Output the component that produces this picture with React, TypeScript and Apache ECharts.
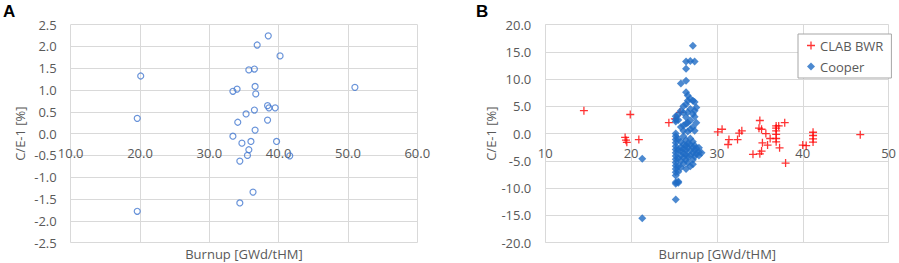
import React, { useEffect, useRef } from "react";
import * as echarts from "echarts";

// Panel A: burnup [GWd/tHM], C/E-1 [%]
const panelAPoints: number[][] = [
  [20.1, 1.32], [19.6, 0.35], [19.6, -1.78], [38.5, 2.24], [36.9, 2.03], [40.2, 1.78],
  [35.7, 1.46], [36.5, 1.48], [36.6, 1.08], [33.4, 0.97], [34.0, 1.02], [36.7, 0.91],
  [51.0, 1.06], [38.4, 0.64], [38.6, 0.59], [39.5, 0.59], [36.5, 0.54], [35.3, 0.45],
  [38.4, 0.31], [34.1, 0.26], [36.6, 0.08], [33.4, -0.06], [36.0, -0.18], [39.7, -0.18],
  [34.7, -0.22], [35.7, -0.37], [35.5, -0.5], [41.6, -0.51], [34.4, -0.63], [36.3, -1.34],
  [34.4, -1.59],
];

// Panel B series
const clabBwrPoints: number[][] = [
  [14.5, 4.2], [19.9, 3.5], [19.3, -0.7], [19.4, -1.2], [19.5, -1.6], [20.9, -1.1],
  [24.4, 2.0], [25.1, 2.7], [25.7, 3.9], [30.1, 0.3], [30.6, 0.8], [31.4, -1.1],
  [31.3, -2.0], [32.4, -1.1], [32.6, 0.1], [32.9, 0.5], [35.0, 2.4], [34.9, 1.0],
  [35.2, 0.8], [35.7, 0.0], [36.2, -0.9], [35.3, -1.7], [35.9, -2.1], [35.2, -3.2],
  [35.0, -3.7], [34.2, -3.8], [36.9, 1.4], [36.9, 1.0], [36.9, 0.5], [36.9, -0.15],
  [36.9, -0.9], [36.9, -1.5], [37.2, 1.4], [37.3, -2.6], [37.9, 2.0], [38.0, -5.4],
  [40.0, -2.1], [40.4, -2.2], [41.2, 0.25], [41.2, -0.35], [41.2, -0.95], [41.2, -1.55],
  [46.7, -0.2],
];

const cooperPoints: number[][] = [
  [21.3, -4.6], [21.3, -15.5],
  [25.2, 3.2], [25.2, 2.6], [25.2, 2.2], [25.2, 0.0], [25.2, -0.5], [25.2, -1.1], [25.2, -1.7],
  [25.2, -2.3], [25.2, -2.9], [25.2, -3.5], [25.2, -4.1], [25.2, -4.7], [25.2, -5.3], [25.2, -5.9],
  [25.2, -6.5], [25.2, -7.1], [25.2, -7.7], [25.2, -8.9], [25.2, -9.2], [25.2, -12.1],
  [25.5, 3.5], [25.5, 2.5], [25.5, -1.0], [25.5, -3.0], [25.5, -4.5], [25.5, -6.0], [25.5, -7.0],
  [25.5, -8.8], [25.5, -9.0],
  [25.8, 9.2], [25.8, 4.2], [25.8, 1.2], [25.8, -1.5], [25.8, -2.5], [25.8, -3.2], [25.8, -4.0],
  [25.8, -5.0], [25.8, -6.2],
  [26.1, 5.0], [26.1, 3.8], [26.1, 1.5], [26.1, 0.5], [26.1, -0.5], [26.1, -2.0], [26.1, -2.8],
  [26.1, -3.6], [26.1, -4.4], [26.1, -5.5],
  [26.4, 13.2], [26.4, 11.9], [26.4, 9.7], [26.4, 7.6], [26.4, 5.4], [26.4, 3.0], [26.4, 1.8],
  [26.4, -1.2], [26.4, -2.2], [26.4, -3.0], [26.4, -3.8], [26.4, -4.8], [26.4, -6.5],
  [26.6, 7.0], [26.6, 6.0], [26.6, 3.9], [26.6, 2.0], [26.6, 0.4], [26.6, -1.8], [26.6, -2.6],
  [26.6, -4.2], [26.6, -5.3],
  [26.9, 13.3], [26.9, 6.4], [26.9, 4.5], [26.9, 2.4], [26.9, 0.8], [26.9, -0.9], [26.9, -2.0],
  [26.9, -3.1], [26.9, -4.0], [26.9, -6.0],
  [27.2, 16.1], [27.2, 6.0], [27.2, 3.6], [27.2, 1.2], [27.2, -1.5], [27.2, -2.5], [27.2, -3.5],
  [27.2, -4.8], [27.2, -5.6],
  [27.4, 13.2], [27.4, 5.8], [27.4, 4.2], [27.4, 3.1], [27.4, 0.5], [27.4, -2.2], [27.4, -3.0],
  [27.4, -4.2],
  [27.6, 4.8], [27.6, 2.0], [27.6, -2.7], [27.6, -3.7],
  [27.9, -3.4], [27.9, -2.6], [27.9, -4.0],
  [28.2, -3.5],
];

const seriesNames = ["CLAB BWR", "Cooper"];
const xTitle = "Burnup [GWd/tHM]";
const yTitle = "C/E-1 [%]";

const crossPath = "path://M4.2,0H5.8V4.2H10V5.8H5.8V10H4.2V5.8H0V4.2H4.2Z";
const FONT = "Open Sans";
const TXT = "#595959";
const GRIDC = "#D9D9D9";
const GRID_H = 218.2;

export default function App() {
  const ref = useRef<HTMLDivElement>(null);
  useEffect(() => {
    if (!ref.current) return;
    const chart = echarts.init(ref.current, null, { renderer: "svg" });
    const lbl = { color: TXT, fontSize: 13, fontFamily: FONT };
    chart.setOption({
      animation: false,
      backgroundColor: "#ffffff",
      grid: [
        { left: 70.7, top: 24.5, width: 346.6, height: GRID_H },
        { left: 545.3, top: 24.5, width: 344, height: GRID_H },
      ],
      xAxis: [
        {
          type: "value", gridIndex: 0, min: 10, max: 60, interval: 10,
          offset: -GRID_H / 2,
          axisLine: { show: true, onZero: false, lineStyle: { color: GRIDC } },
          axisTick: { show: false },
          axisLabel: { color: TXT, fontSize: 13, fontFamily: FONT, margin: 13, formatter: (v: number) => v.toFixed(1) },
          splitLine: { show: true, lineStyle: { color: GRIDC } },
        },
        {
          type: "value", gridIndex: 1, min: 10, max: 50, interval: 10,
          offset: -GRID_H / 2,
          axisLine: { show: true, onZero: false, lineStyle: { color: GRIDC } },
          axisTick: { show: false },
          axisLabel: { color: TXT, fontSize: 13, fontFamily: FONT, margin: 13, formatter: (v: number) => String(v) },
          splitLine: { show: true, lineStyle: { color: GRIDC } },
        },
      ],
      yAxis: [
        {
          type: "value", gridIndex: 0, min: -2.5, max: 2.5, interval: 0.5,
          axisLine: { show: false }, axisTick: { show: false },
          axisLabel: { color: TXT, fontSize: 13, fontFamily: FONT, margin: 14, formatter: (v: number) => v.toFixed(1) },
          splitLine: { show: true, lineStyle: { color: GRIDC } },
          name: yTitle, nameLocation: "middle", nameGap: 44,
          nameTextStyle: { ...lbl },
        },
        {
          type: "value", gridIndex: 1, min: -20, max: 20, interval: 5,
          axisLine: { show: false }, axisTick: { show: false },
          axisLabel: { color: TXT, fontSize: 13, fontFamily: FONT, margin: 14, formatter: (v: number) => v.toFixed(1) },
          splitLine: { show: true, lineStyle: { color: GRIDC } },
          name: yTitle, nameLocation: "middle", nameGap: 42,
          nameTextStyle: { ...lbl },
        },
      ],
      legend: {
        data: [
          { name: seriesNames[0], icon: crossPath },
          { name: seriesNames[1], icon: "diamond" },
        ],
        orient: "vertical",
        left: 798, top: 34,
        itemWidth: 8, itemHeight: 8, itemGap: 8,
        padding: [5, 8, 5, 9],
        borderColor: "#A6A6A6", borderWidth: 1, borderRadius: 0,
        backgroundColor: "#ffffff",
        textStyle: { color: TXT, fontSize: 13, fontFamily: FONT },
      },
      series: [
        {
          name: "A", type: "scatter", xAxisIndex: 0, yAxisIndex: 0,
          data: panelAPoints, symbol: "circle", symbolSize: 6,
          itemStyle: { color: "rgba(255,255,255,0)", borderColor: "#4478D0", borderWidth: 1.2 },
        },
        {
          name: seriesNames[0], type: "scatter", xAxisIndex: 1, yAxisIndex: 1,
          data: clabBwrPoints, symbol: crossPath, symbolSize: 8,
          itemStyle: { color: "#FF0000" },
        },
        {
          name: seriesNames[1], type: "scatter", xAxisIndex: 1, yAxisIndex: 1,
          data: cooperPoints, symbol: "diamond", symbolSize: 8,
          itemStyle: { color: "#1F6BC4" },
        },
      ],
      graphic: [
        { type: "text", left: 3, top: 3, style: { text: "A", font: "bold 17px 'Liberation Sans', Arial, sans-serif", fill: "#000" } },
        { type: "text", left: 476, top: 3, style: { text: "B", font: "bold 17px 'Liberation Sans', Arial, sans-serif", fill: "#000" } },
        { type: "text", x: 244, y: 254, style: { text: xTitle, fill: TXT, font: `13px '${FONT}'`, align: "center", verticalAlign: "middle" } },
        { type: "text", x: 717.3, y: 254, style: { text: xTitle, fill: TXT, font: `13px '${FONT}'`, align: "center", verticalAlign: "middle" } },
      ],
    });
    return () => chart.dispose();
  }, []);
  return (
    <div
      ref={ref}
      style={{ position: "absolute", left: 0, top: 0, width: 899, height: 263 }}
    />
  );
}
